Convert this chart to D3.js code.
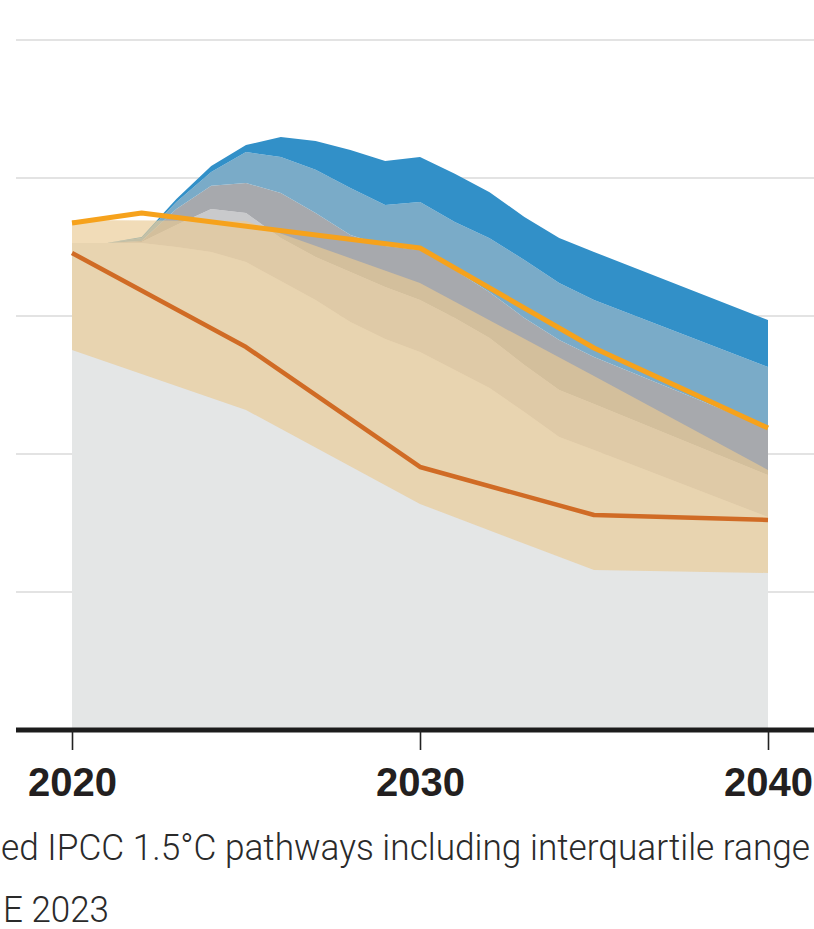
<!DOCTYPE html>
<html>
<head>
<meta charset="utf-8">
<script src="https://cdn.jsdelivr.net/npm/d3@7"></script>
<style>
  html, body { margin: 0; padding: 0; background: #fff; }
  svg { display: block; }
</style>
</head>
<body>
<svg id="chart" width="814" height="929"></svg>
<script>
// ---------- DATA (GtCO2/yr) ----------
const years = [2020,2021,2022,2023,2024,2025,2026,2027,2028,2029,2030,2031,2032,2033,2034,2035,2040];
// stacked layers, bottom to top (thickness of each layer)
const layerA = [35.29,35.29,35.29,35.00,34.64,33.91,32.54,31.16,29.57,28.33,27.39,26.09,24.78,23.04,21.23,20.29,15.43];
const layerB = [0,0,0.07,1.59,3.12,3.55,3.12,3.12,3.62,3.77,3.77,3.77,3.62,3.41,3.41,3.33,3.04];
const layerC = [0,0,0.07,1.16,1.67,2.17,3.26,3.19,2.68,2.97,3.62,3.48,3.33,3.41,3.62,3.41,3.41];
const layerD = [0,0,0.22,0.51,1.01,2.25,2.61,3.12,3.41,2.97,3.48,3.48,3.91,4.20,4.13,4.13,4.42];
const layerE = [0,0,0.07,0.22,0.43,0.51,1.45,2.10,2.75,3.19,3.26,3.48,3.33,3.12,3.26,3.48,3.41];

// IPCC 1.5°C pathways: median and interquartile range
const ipccYears = [2020,2025,2030,2035,2040];
const ipccMedian = [34.57,27.75,19.06,15.58,15.22];
const ipccP25 = [27.54,23.19,16.38,11.59,11.38];
const ipccP75 = [36.96,36.88,32.39,25.65,18.84];

// second projection line (orange)
const otherYears = [2020,2022,2030,2035,2040];
const otherValues = [36.74,37.46,34.93,27.68,21.88];

const gridValues = [10,20,30,40,50];
const xTicks = [2020,2030,2040];
const captionLines = ["ed IPCC 1.5°C pathways including interquartile range", "E 2023"];

// ---------- STYLE ----------
const layerKeys = ["A","B","C","D","E"];
const layerColors = {A:"#e4e6e6", B:"#c9cacc", C:"#a7a9ad", D:"#7aabc8", E:"#3290c8"};

const svg = d3.select("#chart");
const x = d3.scaleLinear().domain([2020, 2040]).range([72, 768]);
const y = d3.scaleLinear().domain([0, 50]).range([730, 40]);

// gridlines
svg.append("g").selectAll("line").data(gridValues).join("line")
  .attr("x1", 16).attr("x2", 814)
  .attr("y1", d => y(d)).attr("y2", d => y(d))
  .attr("stroke", "#e3e3e3").attr("stroke-width", 2);

// stacked layers
const table = years.map((yr, i) => ({year: yr, A: layerA[i], B: layerB[i], C: layerC[i], D: layerD[i], E: layerE[i]}));
const stacked = d3.stack().keys(layerKeys)(table);
const area = d3.area()
  .x(d => x(d.data.year))
  .y0(d => y(d[0]))
  .y1(d => y(d[1]));
svg.append("g").selectAll("path").data(stacked).join("path")
  .attr("d", area)
  .attr("fill", d => layerColors[d.key]);

// IPCC interquartile band (translucent tan)
const band = ipccYears.map((yr, i) => ({year: yr, lo: ipccP25[i], hi: ipccP75[i]}));
svg.append("path").datum(band)
  .attr("d", d3.area().x(d => x(d.year)).y0(d => y(d.lo)).y1(d => y(d.hi)))
  .attr("fill", "#eaca93").attr("fill-opacity", 0.66);

// lines
const line = d3.line().x(d => x(d[0])).y(d => y(d[1]));
svg.append("path").datum(ipccYears.map((yr, i) => [yr, ipccMedian[i]]))
  .attr("d", line).attr("fill", "none")
  .attr("stroke", "#d06b25").attr("stroke-width", 4.5).attr("stroke-linejoin", "round");
svg.append("path").datum(otherYears.map((yr, i) => [yr, otherValues[i]]))
  .attr("d", line).attr("fill", "none")
  .attr("stroke", "#f6a21c").attr("stroke-width", 5).attr("stroke-linejoin", "round");

// x axis
svg.append("line")
  .attr("x1", 16).attr("x2", 814).attr("y1", 730).attr("y2", 730)
  .attr("stroke", "#1c1c1c").attr("stroke-width", 5);
const axis = svg.append("g").attr("transform", "translate(0,730)")
  .call(d3.axisBottom(x).tickValues(xTicks).tickSize(20).tickFormat(d3.format("d")));
axis.select(".domain").remove();
axis.selectAll(".tick line").attr("stroke", "#222").attr("stroke-width", 1.6);
axis.selectAll(".tick text")
  .attr("y", 66).attr("dy", 0)
  .attr("fill", "#231f20")
  .style("font-family", "'Liberation Sans', Arial, sans-serif")
  .style("font-weight", "bold")
  .style("font-size", "40px");

// caption
svg.append("g").selectAll("text").data(captionLines).join("text")
  .attr("x", (d, i) => i === 0 ? 1 : 3)
  .attr("y", (d, i) => i === 0 ? 860 : 922)
  .attr("textLength", (d, i) => i === 0 ? 809 : 106)
  .attr("lengthAdjust", "spacingAndGlyphs")
  .attr("fill", "#2a2a2a")
  .style("font-family", "Roboto, 'Liberation Sans', sans-serif")
  .style("font-weight", 300)
  .style("font-size", "37px")
  .text(d => d);
</script>
</body>
</html>
